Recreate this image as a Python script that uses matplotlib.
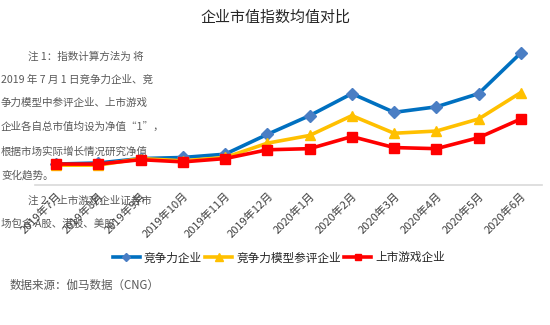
import matplotlib
matplotlib.use("Agg")
import matplotlib.pyplot as plt

plt.rcParams['font.family'] = ['Noto Sans CJK SC', 'DejaVu Sans']

months = ["2019年7月", "2019年8月", "2019年9月", "2019年10月", "2019年11月", "2019年12月",
          "2020年1月", "2020年2月", "2020年3月", "2020年4月", "2020年5月", "2020年6月"]
competitive = [1.00, 1.01, 1.05, 1.06, 1.09, 1.27, 1.44, 1.64, 1.47, 1.52, 1.64, 2.01]
model_rated = [0.99, 0.99, 1.05, 1.03, 1.06, 1.19, 1.26, 1.44, 1.28, 1.30, 1.41, 1.65]
listed_games = [1.00, 1.00, 1.04, 1.02, 1.05, 1.13, 1.14, 1.25, 1.15, 1.14, 1.24, 1.41]
series_names = ["竞争力企业", "竞争力模型参评企业", "上市游戏企业"]

W, H = 550, 325
fig = plt.figure(figsize=(5.5, 3.25), dpi=100)
fig.patch.set_facecolor("white")

ax = fig.add_axes([35 / W, (H - 185) / H, (542 - 35) / W, (185 - 40) / H])
ax.set_zorder(3)
ax.patch.set_alpha(0)

x = list(range(len(months)))
ax.plot(x, competitive, color="#0070C0", lw=2.6, marker="D", ms=6.5,
        mfc="#4A7EC4", mec="#4A7EC4", label=series_names[0], zorder=3)
ax.plot(x, model_rated, color="#FFC000", lw=2.6, marker="^", ms=7.5,
        mfc="#FFC000", mec="#FFC000", label=series_names[1], zorder=4)
ax.plot(x, listed_games, color="#FF0000", lw=2.6, marker="s", ms=7,
        mfc="#FF0000", mec="#FF0000", label=series_names[2], zorder=5)

ax.set_xlim(-0.5, len(months) - 0.5)
ax.set_ylim(0.81, 2.127)
ax.set_yticks([])
for s in ["top", "right", "left"]:
    ax.spines[s].set_visible(False)
ax.spines["bottom"].set_color("#D9D9D9")
ax.spines["bottom"].set_linewidth(1.2)
ax.set_xticks(x)
ax.set_xticklabels(months, rotation=45, ha="right", va="top",
                   rotation_mode="anchor", fontsize=8, color="#404040")
ax.tick_params(axis="x", length=0, pad=4)

fig.text(0.5, 1 - 18 / H, "企业市值指数均值对比", ha="center", va="center",
         fontsize=10.8, color="#262626")

note_color = "#595959"
notes = [
    (28, 57, "注 1：指数计算方法为 将"),
    (1, 80, "2019 年 7 月 1 日竞争力企业、竞"),
    (1, 103, "争力模型中参评企业、上市游戏"),
    (1, 127, "企业各自总市值均设为净值“1”，"),
    (1, 152, "根据市场实际增长情况研究净值"),
    (1, 175, "变化趋势。"),
    (28, 201, "注 2：上市游戏企业证券市"),
    (1, 224, "场包含 A股、港股、美股"),
]
for nx, ny, t in notes:
    fig.text(nx / W, 1 - ny / H, t, ha="left", va="center", fontsize=7.6,
             color=note_color, zorder=1)

fig.legend(loc="center", bbox_to_anchor=(279 / W, 1 - 258 / H), ncol=3,
           frameon=False, fontsize=8.4, handlelength=2.3, columnspacing=0.3,
           handletextpad=0.35, labelcolor="#262626", markerscale=0.7)

fig.text(10 / W, 1 - 285 / H, "数据来源：伽马数据（CNG）", ha="left", va="center",
         fontsize=8.3, color="#595959")

fig.savefig("out.png", dpi=100, facecolor="white")
